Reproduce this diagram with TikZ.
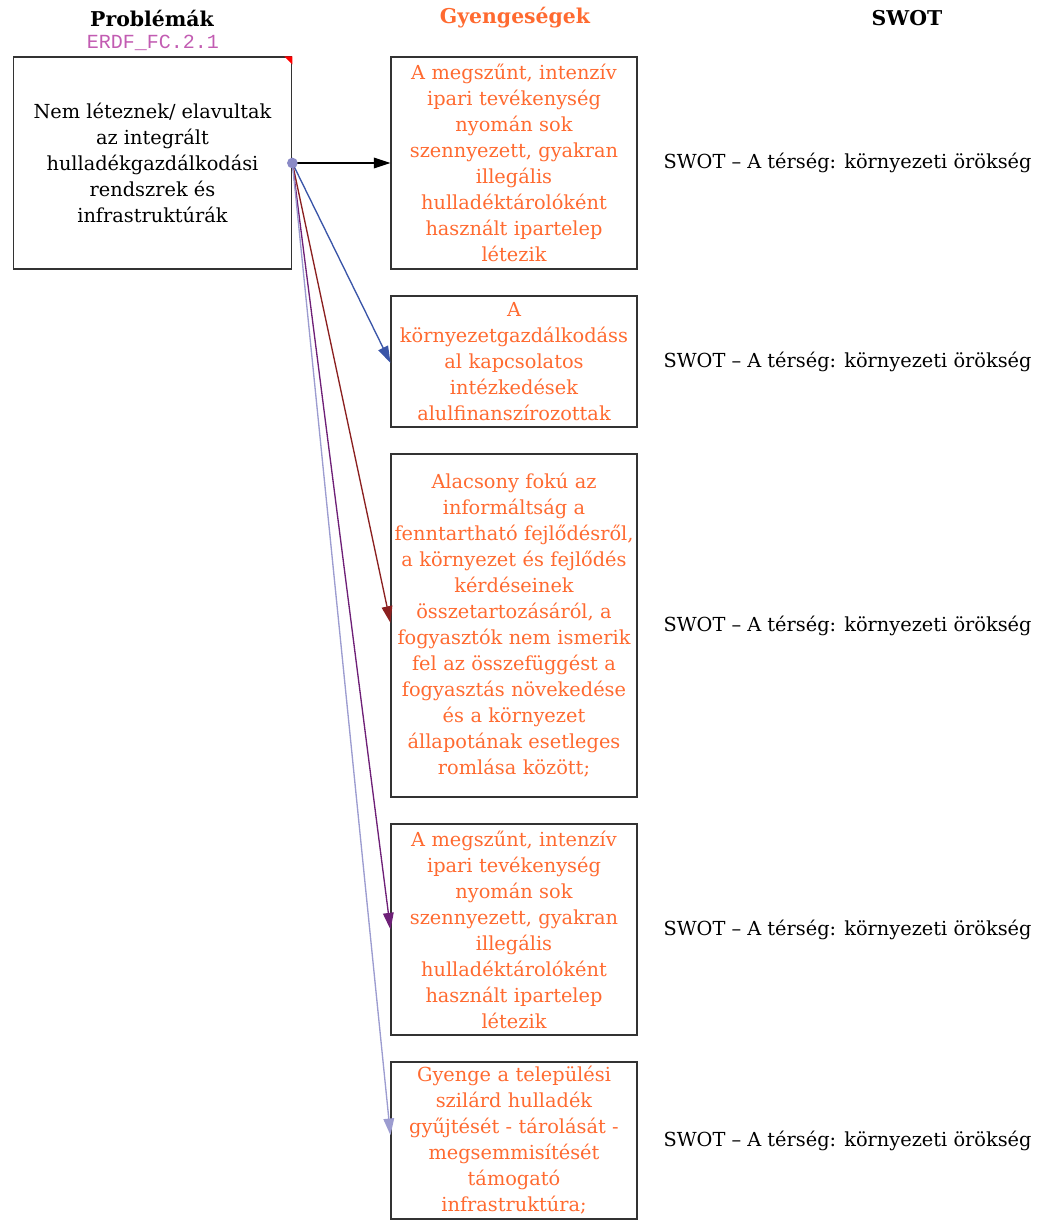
\documentclass[tikz,border=0pt]{standalone}
\usepackage{fontspec}
\setmainfont{DejaVu Serif}
\setmonofont{Liberation Mono}
\usepackage{tikz}
\usetikzlibrary{arrows.meta, positioning}
\definecolor{weakorange}{HTML}{FF6A30}
\definecolor{codepink}{HTML}{C25CB2}
\definecolor{dotblue}{HTML}{8A8AC6}
\definecolor{arblue}{HTML}{3A55A8}
\definecolor{armaroon}{HTML}{8B2020}
\definecolor{arpurple}{HTML}{6E2077}
\definecolor{arlav}{HTML}{9C9CD0}

\begin{document}
\begin{tikzpicture}[x=0.75pt, y=-0.75pt,
    txt/.style={font=\fontsize{14.5}{19.5}\selectfont, align=center},
    hdr/.style={font=\fontsize{15.3}{18}\selectfont\bfseries},
    probbox/.style={txt, draw=black!80, line width=0.8pt, minimum width=209pt, minimum height=159pt, inner sep=0pt},
    weakbox/.style={txt, draw=black!80, line width=0.8pt, text=weakorange, minimum width=184.5pt, text width=184pt, inner sep=0pt},
    arrw/.style={-{Triangle[length=12.5pt, width=8pt]}, line width=1pt}
]
\useasboundingbox (0,0) rectangle (1041,1221);
% Headers
\node[hdr] (hprob) at (152,18) {Problémák};
\node[font=\fontsize{15}{18}\ttfamily, text=codepink] (hcode) at (153,43) {ERDF\_FC.2.1};
\node[hdr, text=weakorange] (hweak) at (515,18) {Gyengeségek};
\node[hdr] (hswot) at (907,18) {SWOT};
% Problem
\node[probbox] (prob) at (152.5,163) {Nem léteznek/ elavultak\\az integrált\\hulladékgazdálkodási\\rendszrek és\\infrastruktúrák};
\fill[red] (prob.north east) -- ++(-8,0) -- ++(8,8) -- cycle;
% Weaknesses and SWOT
\foreach \n/\y/\h/\txt in {
  1/163/159/{A megszűnt, intenzív\\ipari tevékenység\\nyomán sok\\szennyezett, gyakran\\illegális\\hulladéktárolóként\\használt ipartelep\\létezik},
  2/361.5/98.25/{A\\környezetgazdálkodáss\\al kapcsolatos\\intézkedések\\alulfinanszírozottak},
  3/625.5/257.25/{Alacsony fokú az\\informáltság a\\fenntartható fejlődésről,\\a környezet és fejlődés\\kérdéseinek\\összetartozásáról, a\\fogyasztók nem ismerik\\fel az összefüggést a\\fogyasztás növekedése\\és a környezet\\állapotának esetleges\\romlása között;},
  4/929.5/158.25/{A megszűnt, intenzív\\ipari tevékenység\\nyomán sok\\szennyezett, gyakran\\illegális\\hulladéktárolóként\\használt ipartelep\\létezik},
  5/1140.5/117.75/{Gyenge a települési\\szilárd hulladék\\gyűjtését - tárolását -\\megsemmisítését\\támogató\\infrastruktúra;}} {
    \node[weakbox, minimum height=\h pt] (weak\n) at (514,\y) {\txt};
    \node[txt] (swot\n) at (847.5,\y) {SWOT – A térség: környezeti örökség};
}
% Connectors
\draw[arrw, black] (prob.east) -- (weak1.west);
\draw[arrw, arblue] (prob.east) -- ([yshift=-1pt]weak2.west);
\draw[arrw, armaroon] (prob.east) -- ([yshift=2pt]weak3.west);
\draw[arrw, arpurple] (prob.east) -- (weak4.west);
\draw[arrw, arlav] (prob.east) -- ([yshift=4pt]weak5.west);
\fill[dotblue] (prob.east) circle (4pt);
\end{tikzpicture}
\end{document}
